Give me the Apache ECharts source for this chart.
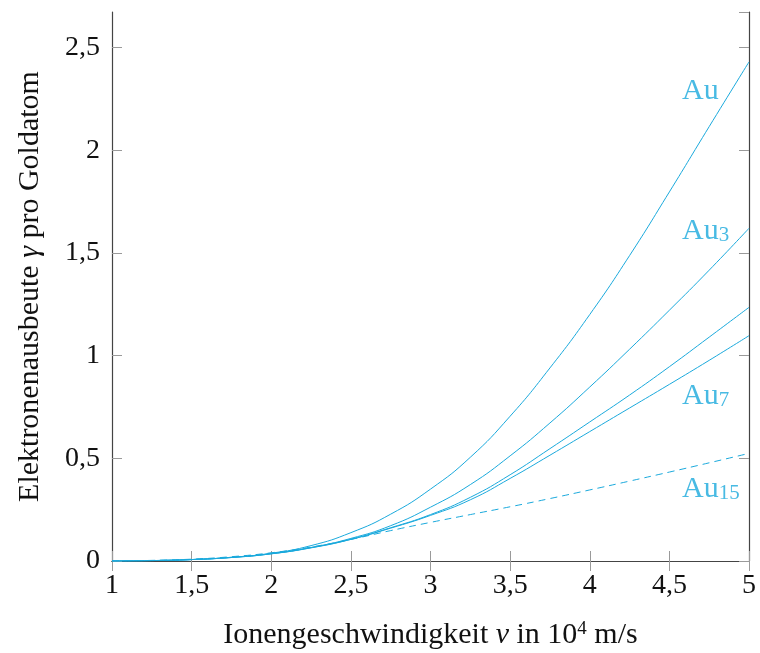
<!DOCTYPE html>
<html>
<head>
<meta charset="utf-8">
<script src="https://cdn.jsdelivr.net/npm/echarts@6/dist/echarts.min.js"></script>
<style>html,body{margin:0;padding:0;background:#fff}#c{width:760px;height:653px}</style>
</head>
<body>
<div id="c"></div>
<script>
// ---- data ----
const velocity = [1, 1.25, 1.5, 1.75, 2, 2.25, 2.5, 2.75, 3, 3.25, 3.5, 3.75, 4, 4.25, 4.5, 4.75, 5];
const yieldAu   = [0, 0.002, 0.007, 0.018, 0.038, 0.075, 0.138, 0.228, 0.35, 0.505, 0.705, 0.94, 1.20, 1.487, 1.797, 2.115, 2.43];
const yieldAu3  = [0, 0.002, 0.007, 0.018, 0.036, 0.066, 0.11, 0.172, 0.262, 0.372, 0.512, 0.672, 0.847, 1.031, 1.221, 1.416, 1.62];
const yieldMid  = [0, 0.002, 0.007, 0.017, 0.035, 0.065, 0.106, 0.162, 0.226, 0.31, 0.42, 0.547, 0.677, 0.808, 0.946, 1.09, 1.235];
const yieldAu7  = [0, 0.002, 0.007, 0.017, 0.035, 0.064, 0.105, 0.16, 0.222, 0.298, 0.402, 0.515, 0.63, 0.745, 0.86, 0.977, 1.097];
const yieldAu15 = [0, 0.003, 0.009, 0.021, 0.040, 0.068, 0.105, 0.148, 0.188, 0.226, 0.264, 0.304, 0.346, 0.389, 0.433, 0.478, 0.524];
const xTicks = [1, 1.5, 2, 2.5, 3, 3.5, 4, 4.5, 5];
const yTicks = [0, 0.5, 1, 1.5, 2, 2.5];
// curve annotations: [name, subscript] and their anchor [v, gamma]
const labelText = [['Au', ''], ['Au', '3'], ['Au', '7'], ['Au', '15']];
const labelAt = [[4.58, 2.29], [4.58, 1.605], [4.58, 0.805], [4.58, 0.35]];

// ---- chart ----
const CYAN = '#1aa9dc';
const FONT = 'Liberation Serif';
const fmt = v => String(v).replace('.', ',');
const chart = echarts.init(document.getElementById('c'), null, {renderer: 'canvas'});

function line(name, ys, dashed) {
  return {
    name, type: 'line', smooth: 0.5, showSymbol: false, symbol: 'none',
    data: velocity.map((v, i) => [v, ys[i]]),
    lineStyle: {color: CYAN, width: 1, type: dashed ? [7, 5] : 'solid'},
    z: 3, silent: true
  };
}

const tickStyle = {show: true, inside: true, length: 10, lineStyle: {color: '#9a9a9a', width: 1}};
const axisLineStyle = {show: true, lineStyle: {color: '#444', width: 1.2}};
const labelFont = {color: '#111', fontFamily: FONT, fontSize: 28};

chart.setOption({
  animation: false,
  grid: {left: 112, right: 11, top: 12, bottom: 92, containLabel: false, outerBoundsMode: 'none'},
  xAxis: [{
    type: 'value', min: 1, max: 5, interval: 0.5, position: 'bottom',
    axisLine: axisLineStyle, axisTick: tickStyle, splitLine: {show: false},
    axisLabel: Object.assign({margin: 11, formatter: v => xTicks.includes(v) ? fmt(v) : ''}, labelFont),
    name: '{a|Ionengeschwindigkeit }{i|v}{a| in 10}{s|4}{a| m/s}',
    nameLocation: 'middle', nameGap: 59,
    nameTextStyle: {
      fontFamily: FONT, color: '#111',
      rich: {
        a: {fontFamily: FONT, fontSize: 30, lineHeight: 30, color: '#111'},
        i: {fontFamily: FONT, fontSize: 30, lineHeight: 30, fontStyle: 'italic', color: '#111'},
        s: {fontFamily: FONT, fontSize: 19, lineHeight: 14, verticalAlign: 'top', color: '#111'}
      }
    }
  }, {
    type: 'value', min: 1, max: 5, interval: 0.5, position: 'top',
    axisLine: axisLineStyle, axisTick: tickStyle, axisLabel: {show: false}, splitLine: {show: false}
  }],
  yAxis: [{
    type: 'value', min: 0, max: 2.673, interval: 0.5, position: 'left',
    axisLine: axisLineStyle, axisTick: tickStyle, splitLine: {show: false},
    axisLabel: Object.assign({margin: 12, showMaxLabel: false, formatter: v => yTicks.includes(v) ? fmt(v) : ''}, labelFont),
    name: '{a|Elektronenausbeute }{i|γ}{a| pro Goldatom}',
    nameLocation: 'middle', nameGap: 67,
    nameTextStyle: {
      fontFamily: FONT, color: '#111',
      rich: {
        a: {fontFamily: FONT, fontSize: 30, color: '#111'},
        i: {fontFamily: FONT, fontSize: 30, fontStyle: 'italic', color: '#111'}
      }
    }
  }, {
    type: 'value', min: 0, max: 2.673, interval: 0.5, position: 'right',
    axisLine: axisLineStyle, axisTick: tickStyle, axisLabel: {show: false}, splitLine: {show: false}
  }],
  series: [
    line('Au', yieldAu),
    line('Au3', yieldAu3),
    line('curve 3', yieldMid),
    line('Au7', yieldAu7),
    line('Au15', yieldAu15, true),
    {
      type: 'scatter', symbolSize: 0, silent: true, z: 4,
      data: labelAt.map((p, i) => ({value: p, name: labelText[i]})),
      label: {
        show: true, position: 'right', distance: 0,
        formatter: p => '{b|' + p.data.name[0] + '}' + (p.data.name[1] ? '{s|' + p.data.name[1] + '}' : ''),
        rich: {
          b: {fontFamily: FONT, fontSize: 30, lineHeight: 30, color: CYAN},
          s: {fontFamily: FONT, fontSize: 21, lineHeight: 10, verticalAlign: 'bottom', color: CYAN}
        }
      }
    }
  ]
});
</script>
</body>
</html>
